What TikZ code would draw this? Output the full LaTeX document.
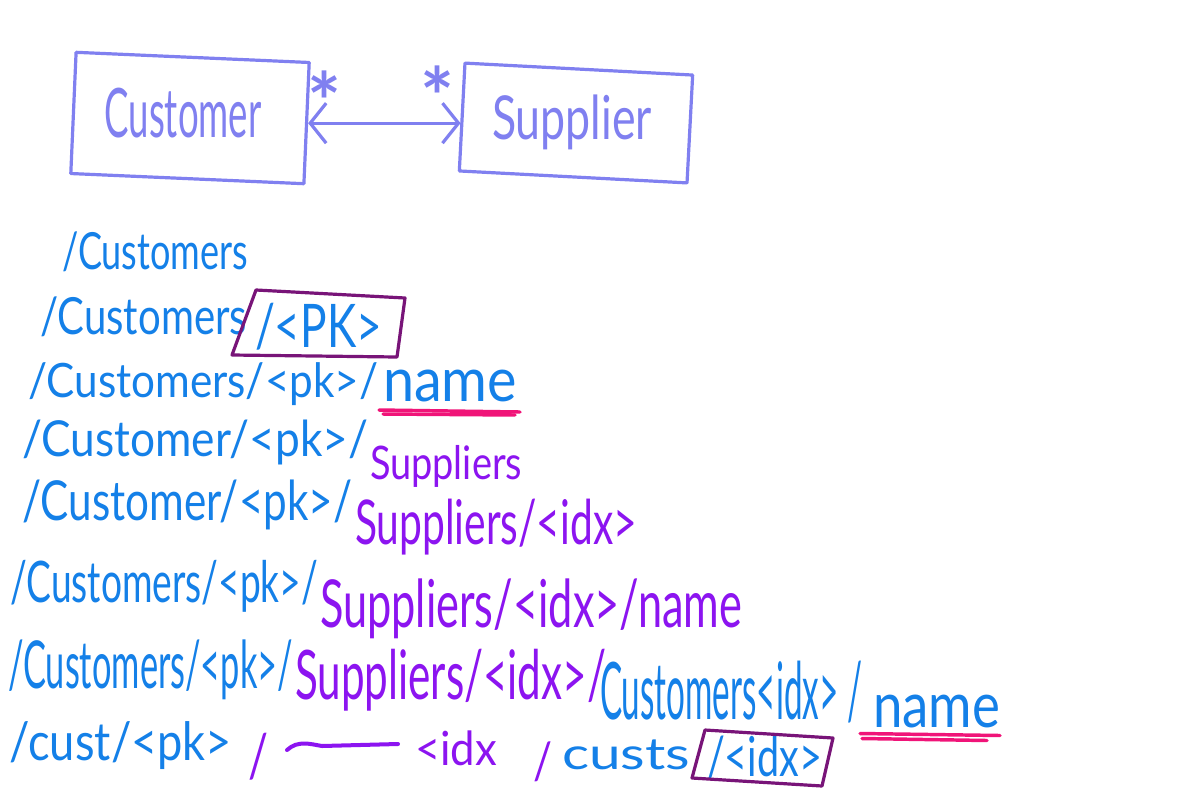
\documentclass[tikz,border=0pt]{standalone}
\usepackage{fontspec}
\setmainfont{Lato}
\usetikzlibrary{arrows.meta,calc}
\definecolor{lav}{RGB}{128,128,240}
\definecolor{hblue}{RGB}{20,128,232}
\definecolor{hpurp}{RGB}{140,20,240}
\definecolor{bxpurp}{RGB}{120,20,120}
\definecolor{hpink}{RGB}{240,20,120}
\newlength{\pxu}\setlength{\pxu}{0.75pt}
\newcommand{\hw}[3]{\resizebox*{#1\pxu}{#2\pxu}{#3}}
\begin{document}
\begin{tikzpicture}[x=0.75pt,y=-0.75pt,
  seg/.style={anchor=west,inner sep=0pt,outer sep=0pt},
  bl/.style={seg,text=hblue},
  pu/.style={seg,text=hpurp},
  umlbox/.style={draw=lav,line width=2.4pt,inner sep=0pt,line join=round},
  umltext/.style={text=lav,inner sep=0pt},
  startxt/.style={text=lav,inner sep=0pt,anchor=base,font=\fontsize{60}{60}\selectfont\bfseries},
  assoc/.style={draw=lav,line width=2.4pt,line cap=round,
    {Straight Barb[length=12pt,width=30pt]}-{Straight Barb[length=12pt,width=30pt]}},
  hlbox/.style={draw=bxpurp,line width=2.4pt,line join=round},
  uline/.style={draw=hpink,line width=2.6pt,line cap=round},
  pstroke/.style={draw=hpurp,line width=3pt,line cap=round}]
\useasboundingbox (0,0) rectangle (1200,790);
\fill[white] (0,0) rectangle (1200,790);

% UML part
\node[umlbox,rotate=-2.5,minimum width=175pt,minimum height=91pt] (custbox) at (190,118) {};
\node[umltext] (custlbl) at (183,113) {\hw{157}{50}{Customer}};
\node[umlbox,rotate=-3,minimum width=171pt,minimum height=81pt] (suppbox) at (576,123) {};
\node[umltext] (supplbl) at (572,122) {\hw{160}{55}{Supplier}};
\draw[assoc] (custbox.east) -- (custbox.east -| suppbox.west);
\node[startxt] (star1) at (324,131) {*};
\node[startxt] (star2) at (437,126) {*};

% URL lines
\node[bl] (l1a) at (62,252) {\hw{186}{40}{/Customers}};

\node[bl] (l2a) at (40,317) {\hw{207}{40}{/Customers}};
\node[bl] (l2b) at (255,327) {\hw{127}{47}{/<PK>}};
\draw[hlbox] (256,290) -- (405,298) -- (397,357) -- (232,355) -- cycle;

\node[bl] (l3a) at (28,384) {\hw{350}{43}{/Customers/<pk>/}};
\node[bl] (l3b) at (383,386) {\hw{134}{32}{name}};
\draw[uline] ($(l3b.south west)+(-4,8)$) -- ($(l3b.south east)+(3,10)$);
\draw[uline] ($(l3b.south west)+(0,12)$) -- ($(l3b.south east)+(-2,13)$);

\node[bl] (l4a) at (22,442) {\hw{346}{45}{/Customer/<pk>/}};
\node[pu] (l4b) at (370,466) {\hw{152}{42}{Suppliers}};

\node[bl] (l5a) at (22,505) {\hw{330}{50}{/Customer/<pk>/}};
\node[pu] (l5b) at (355,527) {\hw{282}{56}{Suppliers/<idx>}};

\node[bl] (l6a) at (10,586) {\hw{308}{52}{/Customers/<pk>/}};
\node[pu] (l6b) at (320,609) {\hw{422}{60}{Suppliers/<idx>/name}};

\node[bl] (l7a) at (8,670) {\hw{285}{60}{/Customers/<pk>/}};
\node[pu] (l7b) at (295,680) {\hw{311}{62}{Suppliers/<idx>/}};
\node[bl] (l7c) at (600,692) {\hw{262}{62}{Customers<idx> /}};
\node[bl] (l7d) at (873,711) {\hw{127}{33}{name}};
\draw[uline] ($(l7d.south west)+(-13,6)$) -- ($(l7d.south east)+(0,8)$);
\draw[uline] ($(l7d.south west)+(-11,11)$) -- ($(l7d.south east)+(-13,13)$);

\node[bl] (l8a) at (10,746) {\hw{222}{48}{/cust/<pk>}};
\node[pu] (l8b) at (248,757) {\hw{20}{47}{/}};
\draw[pstroke] (287,750) .. controls (298,740) and (310,744) .. (322,746) -- (398,744);
\node[pu] (l8c) at (415,748) {\hw{82}{35}{<idx}};
\node[pu] (l8d) at (533,762) {\hw{19}{40}{/}};
\node[bl] (l8e) at (562,755) {\hw{128}{30}{custs}};
\node[bl] (l8f) at (707,757) {\hw{115}{43}{/<idx>}};
\draw[hlbox] (705,730) -- (833,738) -- (822,786) -- (692,778) -- cycle;
\end{tikzpicture}
\end{document}
